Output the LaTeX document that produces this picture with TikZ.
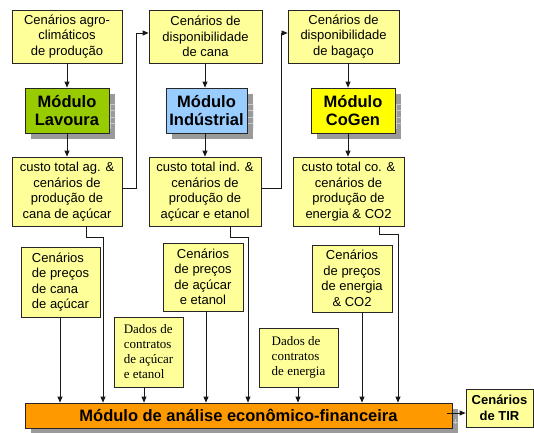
\documentclass[tikz,border=0pt]{standalone}
\usepackage{fontspec}
\setmainfont{Liberation Sans}
\newfontfamily\tms{Liberation Serif}
\usetikzlibrary{arrows.meta,calc,backgrounds}
\definecolor{yfill}{HTML}{FFFF99}
\definecolor{lavc}{HTML}{99CC00}
\definecolor{indc}{HTML}{99CCFF}
\definecolor{cogc}{HTML}{FFFF00}
\definecolor{bigc}{HTML}{FF9900}
\definecolor{shadowgray}{HTML}{9A9A9A}
\definecolor{shadowline}{HTML}{C8C8C8}
\tikzset{
  ybox/.style={draw=black!85, fill=yfill, line width=0.8pt, inner sep=0pt, align=center,
    font=\fontsize{13}{15.5}\selectfont},
  modbox/.style={draw=black!85, line width=0.8pt, inner sep=0pt, align=center,
    font=\bfseries\fontsize{16.5}{18}\selectfont},
  arr/.style={-{Triangle[length=6pt,width=5pt]}, line width=0.8pt, draw=black!90},
  conn/.style={line width=0.8pt, draw=black!90},
}
\newcommand\gridshadow[1]{%
  \begin{scope}[on background layer]
    \coordinate (s1) at ($(#1.north west)+(6,6)$);
    \coordinate (s2) at ($(#1.south east)+(6,6)$);
    \begin{scope}
      \clip (s1) rectangle (s2);
      \fill[shadowgray] (s1) rectangle (s2);
      \draw[shadowline, line width=0.7pt, step=6.5pt] ($(s1)+(-10,10)$) grid ($(s2)+(10,-10)$);
    \end{scope}
  \end{scope}}
\begin{document}
\begin{tikzpicture}[x=1pt,y=-1pt]
\useasboundingbox (0,0) rectangle (534,432);
% top row
\node[ybox, minimum width=110pt, minimum height=53pt] (b1) at (67,36.5) {Cenários agro-\\climáticos\\de produção};
\node[ybox, minimum width=113pt, minimum height=53pt] (b2) at (205.5,36.5) {Cenários de\\disponibilidade\\de cana};
\node[ybox, minimum width=111pt, minimum height=53pt] (b3) at (343.5,36.5) {Cenários de\\disponibilidade\\de bagaço};
% modules
\node[modbox, fill=lavc, minimum width=84pt, minimum height=45pt] (m1) at (67,110.5) {Módulo\\Lavoura};
\node[modbox, fill=indc, minimum width=81pt, minimum height=45pt] (m2) at (206.5,110.5) {Módulo\\Indústrial};
\node[modbox, fill=cogc, minimum width=84pt, minimum height=45pt] (m3) at (353,110.5) {Módulo\\CoGen};
\gridshadow{m1}
\gridshadow{m2}
\gridshadow{m3}
% second row
\node[ybox, minimum width=110pt, minimum height=69pt] (b4) at (67,191.5) {custo total ag. \&\\cenários de\\produção de\\cana de açúcar};
\node[ybox, minimum width=112pt, minimum height=69pt] (b5) at (205,191.5) {custo total ind. \&\\cenários de\\produção de\\açúcar e etanol};
\node[ybox, minimum width=111pt, minimum height=69pt] (b6) at (348.5,191.5) {custo total co. \&\\cenários de\\produção de\\energia \& CO2};
% price scenarios
\node[ybox, align=left, minimum width=79pt, minimum height=70pt] (b7) at (60.5,282) {Cenários\\de preços\\de cana\\de açúcar};
\node[ybox, minimum width=80pt, minimum height=68pt] (b8) at (203,277) {Cenários\\de preços\\de açúcar\\e etanol};
\node[ybox, minimum width=80pt, minimum height=67pt] (b9) at (352,278.5) {Cenários\\de preços\\de energia\\\& CO2};
% contracts
\node[ybox, align=left, font=\tms\fontsize{13}{15}\selectfont, minimum width=69pt, minimum height=70pt] (b10) at (148.5,352) {Dados de\\contratos\\de açúcar\\e etanol};
\node[ybox, align=left, font=\tms\fontsize{13}{15}\selectfont, minimum width=79pt, minimum height=59pt] (b11) at (298.5,357.5) {Dados de\\contratos\\de energia};
% big module
\node[modbox, fill=bigc, minimum width=427pt, minimum height=25pt] (big) at (238.5,415.5) {Módulo de análise econômico-financeira};
\gridshadow{big}
\node[ybox, font=\bfseries\fontsize{13}{15.5}\selectfont, minimum width=67pt, minimum height=38pt] (tir) at (499.5,408) {Cenários\\de TIR};
% column coordinates
\coordinate (c1) at (67,0);
\coordinate (c2) at (205,0);
\coordinate (c3) at (348,0);
\draw[arr] (c1 |- b1.south) -- (c1 |- m1.north);
\draw[arr] (c2 |- b2.south) -- (c2 |- m2.north);
\draw[arr] (c3 |- b3.south) -- (c3 |- m3.north);
\draw[arr] (c1 |- m1.south) -- (c1 |- b4.north);
\draw[arr] (c2 |- m2.south) -- (c2 |- b5.north);
\draw[arr] (c3 |- m3.south) -- (c3 |- b6.north);
% feedback connectors
\coordinate (k1) at (136,0);
\coordinate (k2) at (281,0);
\coordinate (b4r) at ([yshift=3.5pt]b4.east);
\coordinate (b2l) at ([yshift=3.5pt]b2.west);
\coordinate (b5r) at ([yshift=3.5pt]b5.east);
\coordinate (b3l) at ([yshift=3.5pt]b3.west);
\draw[arr] (b4r) -| (k1 |- b2l) -- (b2l);
\draw[arr] (b5r) -| (k2 |- b3l) -- (b3l);
% cost boxes to big module
\coordinate (d1) at (86,0);  \coordinate (e1) at (103,0);
\coordinate (d2) at (230,0); \coordinate (e2) at (248,0);
\coordinate (d3) at (379,0); \coordinate (e3) at (398,0);
\draw[arr] (d1 |- b4.south) -- ++(0,11) -| (e1 |- big.north);
\draw[arr] (d2 |- b5.south) -- ++(0,11) -| (e2 |- big.north);
\draw[arr] (d3 |- b6.south) -- ++(0,8) -| (e3 |- big.north);
% price and contract boxes to big module
\coordinate (p1) at (60,0);
\coordinate (p2) at (206,0);
\coordinate (p3) at (362,0);
\coordinate (p4) at (144,0);
\coordinate (p5) at (298,0);
\draw[arr] (p1 |- b7.south) -- (p1 |- big.north);
\draw[arr] (p2 |- b8.south) -- (p2 |- big.north);
\draw[arr] (p3 |- b9.south) -- (p3 |- big.north);
\draw[arr] (p4 |- b10.south) -- (p4 |- big.north);
\draw[arr] (p5 |- b11.south) -- (p5 |- big.north);
% to TIR
\coordinate (ta) at (447,413);
\draw[arr] (ta) -- (ta -| tir.west);
\end{tikzpicture}
\end{document}
